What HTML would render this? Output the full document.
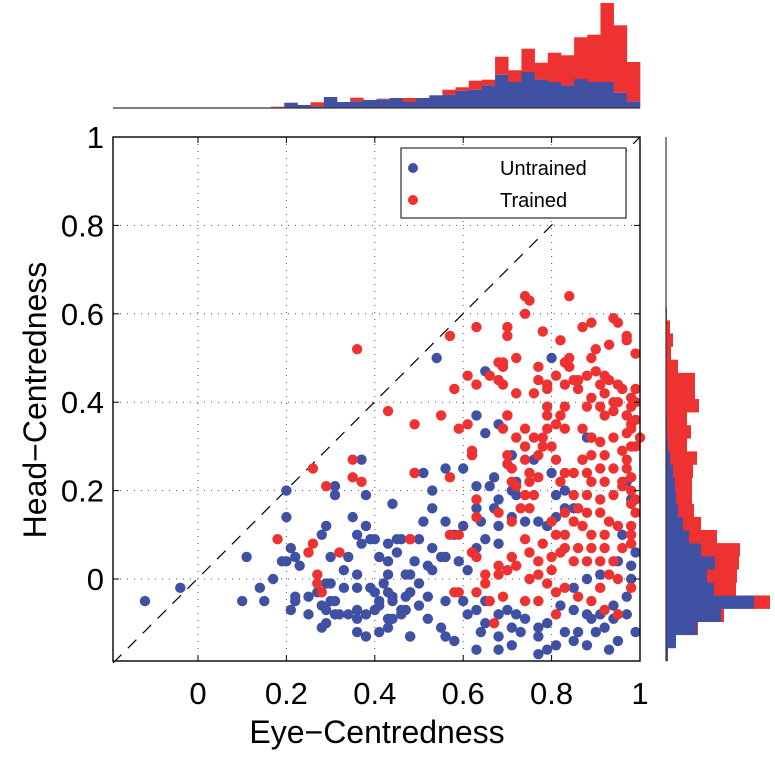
<!DOCTYPE html>
<html><head><meta charset="utf-8"><style>
html,body{margin:0;padding:0;background:#fff;}
svg{display:block;font-family:"Liberation Sans",sans-serif;}
</style></head><body>
<svg id="chart" width="775" height="758" viewBox="0 0 775 758">
<g id="grid"></g>
<line x1="113" y1="663" x2="640" y2="137" stroke="#000" stroke-width="1.2" stroke-dasharray="12,9" id="diag"/>
<g id="pts"></g>
<rect x="113" y="137" width="527" height="524" fill="none" stroke="#000" stroke-width="1.4"/>
<g id="ticks"></g>
<g id="tophist"></g>
<g id="righthist"></g>
<text x="377" y="743" font-size="32" text-anchor="middle">Eye−Centredness</text>
<text transform="translate(46,400) rotate(-90)" font-size="32" text-anchor="middle">Head−Centredness</text>
<g>
<rect x="401" y="148" width="225" height="70" fill="#fff" stroke="#000" stroke-width="1"/>
<circle cx="413" cy="168" r="5" fill="#4050a2"/>
<text x="500" y="175" font-size="20">Untrained</text>
<circle cx="413" cy="200" r="5" fill="#ee3131"/>
<text x="500" y="207" font-size="20">Trained</text>
</g>
</svg>
<script>
const xTicks=[0,0.2,0.4,0.6,0.8,1];
const yTicks=[0,0.2,0.4,0.6,0.8,1];
const xTickLabels=["0","0.2","0.4","0.6","0.8","1"];
const yTickLabels=["0","0.2","0.4","0.6","0.8","1"];
const untrainedX=[-0.12,-0.04,0.10,0.11,0.14,0.15,0.17,0.20,0.19,0.20,0.20,0.21,0.22,0.23,0.22,0.22,0.21,0.25,0.25,0.28,0.29,0.30,0.31,0.31,0.35,0.38,0.37,0.44,0.38,0.36,0.37,0.39,0.40,0.34,0.33,0.36,0.36,0.33,0.29,0.30,0.27,0.28,0.30,0.31,0.29,0.31,0.32,0.34,0.36,0.36,0.38,0.29,0.28,0.36,0.38,0.41,0.43,0.43,0.44,0.46,0.47,0.41,0.40,0.41,0.40,0.39,0.43,0.44,0.44,0.42,0.43,0.41,0.43,0.45,0.45,0.43,0.48,0.47,0.48,0.48,
0.54,0.80,0.65,0.63,0.68,0.65,0.71,0.76,0.88,0.89,0.97,0.87,0.51,0.56,0.60,0.67,0.72,0.80,0.53,0.53,0.51,0.56,0.63,0.66,0.71,0.72,0.63,0.68,0.67,0.64,0.68,0.71,0.74,0.77,0.79,0.81,0.83,0.85,0.81,0.83,
0.46,0.50,0.53,0.58,0.60,0.55,0.52,0.49,0.47,0.50,0.53,0.56,0.59,0.61,0.63,0.65,0.68,
0.48,0.46,0.50,0.52,0.56,0.52,0.55,0.48,0.56,0.58,0.60,0.61,0.63,0.65,0.65,0.64,0.68,0.70,0.72,0.74,0.77,0.79,0.71,0.73,0.68,0.63,0.68,0.71,0.77,0.79,0.81,0.83,0.86,0.89,0.91,0.94,0.97,0.98,0.98,0.95,0.91,0.88,0.85,0.82,0.85,0.88,0.90,0.92,0.94,0.85,0.88,0.77,0.97,0.98,0.96,0.99,0.97,0.99,0.95,0.93];
const untrainedY=[-0.05,-0.02,-0.05,0.05,-0.02,-0.05,0.00,0.20,0.04,0.04,0.14,0.07,0.05,0.03,-0.04,-0.05,-0.07,-0.08,-0.04,0.10,0.12,0.05,0.21,0.19,0.14,0.19,0.27,0.17,0.12,0.10,0.08,0.09,0.09,0.05,0.02,0.01,-0.02,-0.02,-0.01,-0.01,-0.03,-0.06,-0.05,-0.05,-0.07,-0.08,-0.08,-0.08,-0.07,-0.09,-0.08,-0.10,-0.11,-0.12,-0.13,-0.12,-0.11,-0.09,-0.09,-0.08,-0.07,-0.06,-0.07,-0.05,-0.03,-0.02,-0.03,-0.04,-0.05,-0.01,0.01,0.05,0.04,0.06,0.09,0.08,0.01,-0.04,-0.03,-0.13,
0.50,0.50,0.47,0.37,0.35,0.33,0.28,0.27,0.32,0.32,0.37,0.27,0.24,0.25,0.25,0.23,0.22,0.24,0.20,0.16,0.13,0.13,0.21,0.21,0.20,0.19,0.16,0.18,0.16,0.13,0.12,0.14,0.13,0.13,0.12,0.14,0.16,0.16,0.19,0.20,
0.09,0.09,0.07,0.10,0.12,0.05,0.03,0.04,0.01,-0.01,0.02,0.05,0.04,0.02,0.07,0.09,0.08,
-0.03,-0.07,-0.06,-0.04,-0.05,-0.09,-0.11,-0.13,-0.13,-0.14,-0.05,-0.08,-0.07,-0.05,-0.10,-0.12,-0.08,-0.07,-0.08,-0.09,-0.11,-0.10,-0.11,-0.12,-0.13,-0.16,-0.16,-0.15,-0.13,-0.16,-0.15,-0.12,-0.12,-0.09,-0.08,-0.06,-0.04,0.00,0.03,0.04,0.01,0.00,-0.02,-0.06,-0.07,-0.08,-0.12,-0.11,-0.09,-0.14,-0.15,-0.17,0.22,0.18,0.10,0.06,-0.08,-0.12,-0.14,-0.16];
const trainedX=[0.36,0.43,0.49,0.49,0.26,0.29,0.35,0.35,0.37,0.18,0.26,0.25,0.32,0.48,0.27,0.27,0.28,
0.74,0.75,0.84,0.74,0.63,0.70,0.70,0.57,0.78,0.82,0.87,0.89,0.94,0.95,0.97,0.97,0.93,0.90,0.89,0.99,0.72,0.68,0.69,0.69,0.66,0.68,0.69,0.61,0.63,0.58,0.72,0.76,0.79,0.79,0.77,0.77,0.81,0.83,0.84,0.84,0.83,0.85,
0.88,0.90,0.92,0.93,0.95,0.96,0.91,0.92,0.94,0.95,0.98,0.98,0.89,0.88,0.91,0.94,0.97,0.99,0.92,0.86,0.86,
0.55,0.59,0.61,0.70,0.70,0.69,0.74,0.72,0.76,0.78,0.79,0.79,0.83,0.82,0.83,0.81,0.79,0.87,0.89,0.91,0.94,0.97,0.98,1.0,0.74,0.78,0.80,0.77,0.81,0.74,0.75,0.62,0.62,0.70,0.70,0.71,0.49,0.57,0.75,0.77,0.83,0.85,0.82,
0.87,0.89,0.92,0.96,0.98,0.88,0.91,0.94,0.97,0.98,0.89,0.92,0.96,0.98,0.88,0.91,0.94,0.98,0.99,0.71,0.72,0.76,0.74,0.75,0.63,0.63,0.68,0.71,0.73,
0.85,0.86,0.83,0.80,0.85,0.88,0.91,0.93,0.95,0.98,0.87,0.89,0.92,0.83,0.81,0.78,0.83,0.86,0.89,0.92,0.96,0.98,0.94,0.91,0.88,0.85,0.82,0.80,0.77,
0.75,0.74,0.71,0.68,0.65,0.65,0.68,0.70,0.72,0.75,0.77,0.80,0.79,0.81,0.83,0.86,0.89,0.91,0.93,0.95,0.98,0.92,0.95,0.77,0.74,0.69,0.66,0.63,0.58,0.59,0.48,0.57,0.59,0.62,0.63,0.67,0.81,
0.99,0.99,0.98,0.99,0.97,0.96,0.99,0.98];
const trainedY=[0.52,0.38,0.35,0.24,0.25,0.21,0.27,0.23,0.22,0.09,0.08,0.06,0.06,0.09,0.01,-0.01,-0.03,
0.64,0.63,0.64,0.60,0.57,0.57,0.55,0.55,0.56,0.54,0.57,0.58,0.59,0.58,0.55,0.54,0.53,0.52,0.50,0.51,0.50,0.49,0.49,0.48,0.46,0.45,0.44,0.46,0.44,0.43,0.42,0.42,0.43,0.44,0.45,0.48,0.46,0.44,0.48,0.50,0.49,0.45,
0.46,0.47,0.46,0.45,0.44,0.43,0.44,0.42,0.40,0.40,0.41,0.39,0.41,0.39,0.39,0.38,0.37,0.36,0.37,0.43,0.45,
0.37,0.34,0.35,0.37,0.37,0.34,0.34,0.32,0.32,0.32,0.39,0.37,0.39,0.37,0.34,0.35,0.34,0.34,0.32,0.31,0.32,0.33,0.34,0.32,0.30,0.30,0.30,0.28,0.27,0.27,0.24,0.29,0.28,0.28,0.26,0.25,0.24,0.23,0.22,0.23,0.24,0.24,0.22,
0.27,0.28,0.28,0.29,0.30,0.24,0.25,0.25,0.25,0.23,0.22,0.22,0.21,0.20,0.19,0.18,0.19,0.17,0.15,0.22,0.21,0.19,0.19,0.16,0.18,0.14,0.15,0.13,0.16,
0.19,0.16,0.15,0.13,0.13,0.15,0.15,0.13,0.12,0.10,0.12,0.10,0.10,0.10,0.10,0.08,0.07,0.07,0.07,0.07,0.07,0.08,0.04,0.04,0.04,0.04,0.06,0.05,0.04,
0.06,0.09,0.05,0.03,0.01,-0.01,0.01,0.02,0.03,0.00,0.01,0.02,-0.01,-0.03,-0.02,-0.04,-0.05,-0.02,0.01,0.00,-0.02,-0.07,-0.08,-0.05,-0.05,-0.04,-0.05,-0.03,-0.03,-0.03,0.09,0.10,0.10,0.06,0.05,-0.10,-0.08,
0.43,0.40,0.35,0.30,0.27,0.22,0.18,0.12];
// top histogram: 40 bins over x domain, stacked counts
const topBlue=[0,0,0,0,0,0,0,0,0,0,0,0.4,0.7,5.3,3,1.7,11,6,6.7,8,8.7,10,6,10,12.7,13.3,17.3,18.3,22.7,33.3,26,36,28.7,26,22.7,29,26,26,15.3,6.7];
const topRed=[0,0,0,0,0,0,0,0,0,0,0,0,0.6,0,0,4,0,0,3.6,0,0.6,0,4,0,0,5,3.4,9,5.6,18,11.7,23.3,16.6,29.3,30,41.7,47.3,79,67.4,39.3];
// right histogram: 40 bins over y domain from bottom, stacked counts
const rightBlue=[2,10,31,55,88,48,41,49,35,23,17,12,10,9,7,4,2,1,1,0,0,0,0,0,0,0,0,0,0,0,0,0,0,0,0,0,0,0,0,0];
const rightRed=[0,0,1,3,16,22,30,24,39,28,18,16,16,17,20,27,19,24,20,33,29,29,12,5,7,4,1,0,0,0,0,0,0,0,0,0,0,0,0,0];

const X0=113,X1=640,Y0=661,Y1=137;
const xMin=-0.1923,xMax=1,yMin=-0.1855,yMax=1;
const xs=v=>X0+(v-xMin)/(xMax-xMin)*(X1-X0);
const ys=v=>Y0-(v-yMin)/(yMax-yMin)*(Y0-Y1);
const NS="http://www.w3.org/2000/svg";
function mk(tag,attrs,parent){const e=document.createElementNS(NS,tag);for(const k in attrs)e.setAttribute(k,attrs[k]);parent.appendChild(e);return e;}
const grid=document.getElementById('grid'),ticks=document.getElementById('ticks');
xTicks.forEach((t,i)=>{
  const x=xs(t);
  if(t<1){const l=mk('line',{x1:x,y1:Y1,x2:x,y2:Y0,stroke:'#555','stroke-width':1,'stroke-dasharray':'1,6'},grid);
  
  }
  const a=mk('line',{x1:x,y1:Y0,x2:x,y2:Y0-6,stroke:'#000'},ticks);
  
  
  const b=mk('line',{x1:x,y1:Y1,x2:x,y2:Y1+6,stroke:'#000'},ticks);
  
  
  const tx=mk('text',{x:x,y:704,'font-size':31,'text-anchor':'middle'},ticks);
  tx.textContent=xTickLabels[i];
  
  
});
yTicks.forEach((t,i)=>{
  const y=ys(t);
  if(t<1){const l=mk('line',{x1:X0,y1:y,x2:X1,y2:y,stroke:'#555','stroke-width':1,'stroke-dasharray':'1,6'},grid);
  
  }
  const a=mk('line',{x1:X0,y1:y,x2:X0+6,y2:y,stroke:'#000'},ticks);
  
  
  const b=mk('line',{x1:X1,y1:y,x2:X1-6,y2:y,stroke:'#000'},ticks);
  
  
  const tx=mk('text',{x:104,y:y+11,'font-size':31,'text-anchor':'end'},ticks);
  tx.textContent=yTickLabels[i];
  
  
});
const pts=document.getElementById('pts');
untrainedX.forEach((v,i)=>{
  const c=mk('circle',{cx:xs(v),cy:ys(untrainedY[i]),r:5.2,fill:'#4050a2'},pts);
  
  
});
trainedX.forEach((v,i)=>{
  const c=mk('circle',{cx:xs(v),cy:ys(trainedY[i]),r:5.2,fill:'#ee3131'},pts);
  
  
});
// top histogram
const th=document.getElementById('tophist');
const TB=108, bw=(X1-X0)/40, hs=1.0;
topBlue.forEach((b,i)=>{
  const r=topRed[i], x=X0+i*bw;
  if(b>0){const e=mk('rect',{x:x,y:TB-b*hs,width:bw+0.3,height:b*hs,fill:'#4050a2'},th);
  
  }
  if(r>0){const e=mk('rect',{x:x,y:TB-(b+r)*hs,width:bw+0.3,height:r*hs,fill:'#ee3131'},th);
  
  }
});
const tl=mk('line',{x1:X0,y1:TB,x2:X1,y2:TB,stroke:'#333','stroke-width':1.2},th);


// right histogram
const rh=document.getElementById('righthist');
const RB=666, bh=(Y0-Y1)/40;
rightBlue.forEach((b,i)=>{
  const r=rightRed[i], y=Y0-(i+1)*bh;
  if(b>0){const e=mk('rect',{x:RB,y:y,width:b*hs,height:bh+0.3,fill:'#4050a2'},rh);
  
  }
  if(r>0){const e=mk('rect',{x:RB+b*hs,y:y,width:r*hs,height:bh+0.3,fill:'#ee3131'},rh);
  
  }
});
const rl=mk('line',{x1:RB,y1:Y1,x2:RB,y2:Y0,stroke:'#333','stroke-width':1.2},rh);


</script>
</body></html>
